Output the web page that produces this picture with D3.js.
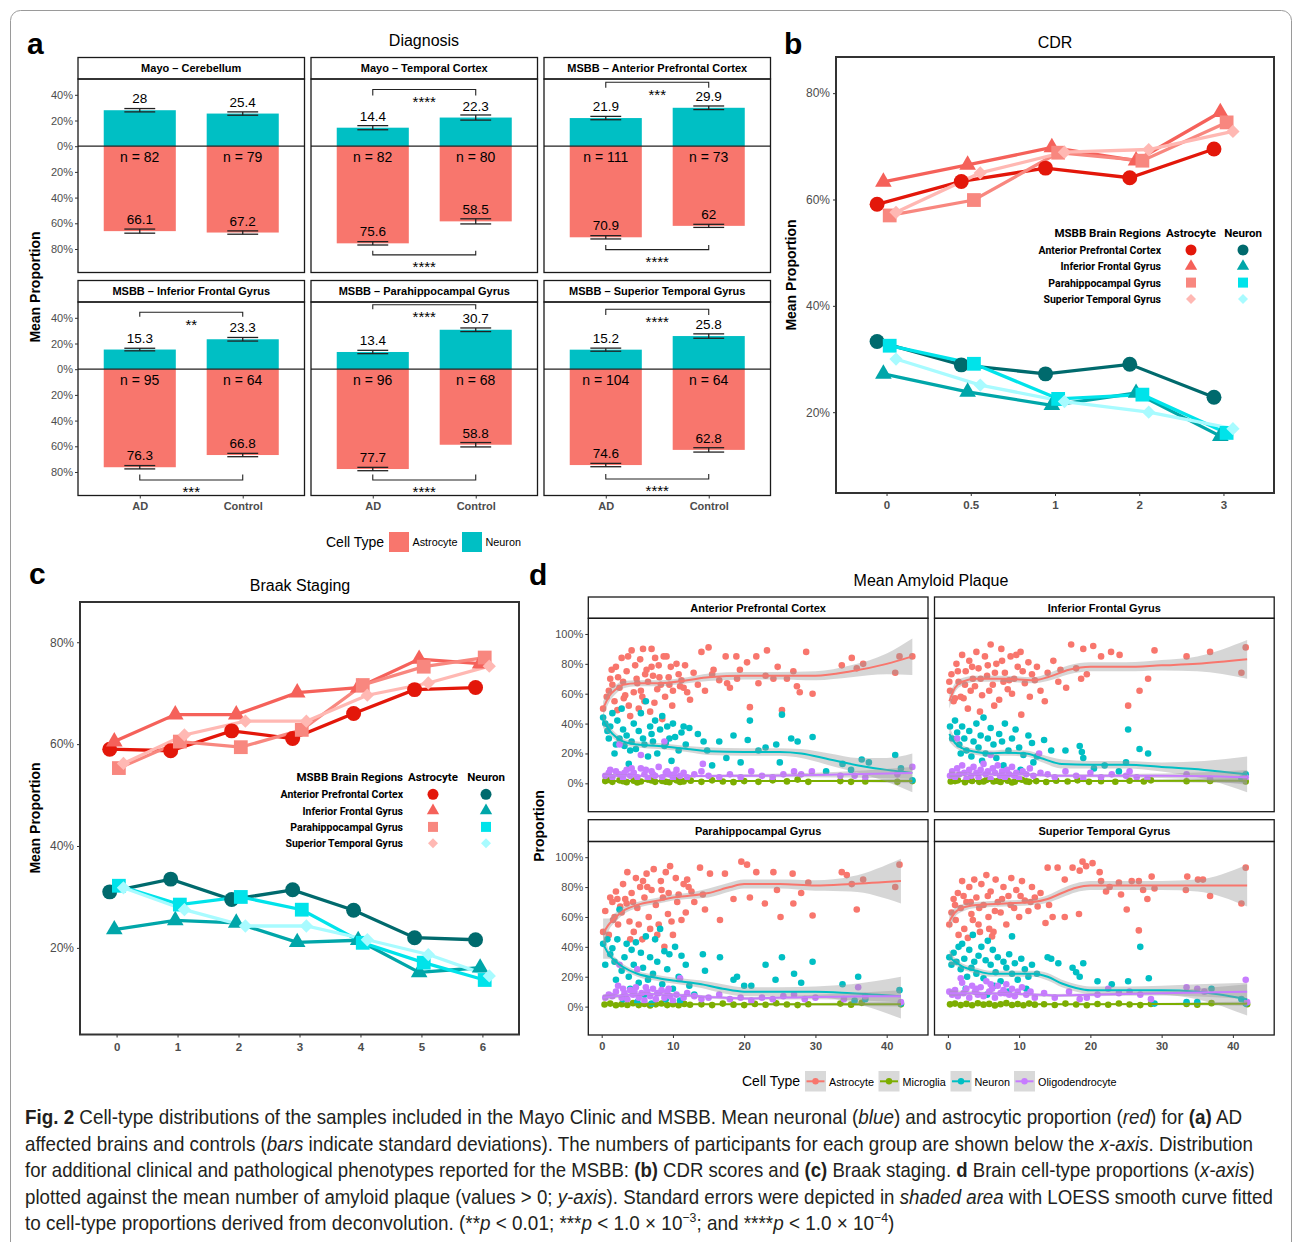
<!DOCTYPE html>
<html>
<head>
<meta charset="utf-8">
<script src="https://cdn.jsdelivr.net/npm/d3@7"></script>
<style>
  body { margin: 0; background: #fff; }
  svg { display: block; }
  text { font-family: "Liberation Sans", Arial, sans-serif; }
</style>
</head>
<body>
<svg id="fig" width="1295" height="1242"></svg>
<script>
// ---------- panel a : diagnosis ----------
const facetsA = ['Mayo \u2013 Cerebellum', 'Mayo \u2013 Temporal Cortex', 'MSBB \u2013 Anterior Prefrontal Cortex',
  'MSBB \u2013 Inferior Frontal Gyrus', 'MSBB \u2013 Parahippocampal Gyrus', 'MSBB \u2013 Superior Temporal Gyrus']
const groupsA = ['AD', 'Control']
const neuronMean = [[28, 25.4], [14.4, 22.3], [21.9, 29.9], [15.3, 23.3], [13.4, 30.7], [15.2, 25.8]]
const neuronErr = [[1.3, 1.3], [1.6, 2.0], [1.3, 1.4], [1.0, 1.4], [1.3, 1.4], [1.2, 1.7]]
const astroMean = [[66.1, 67.2], [75.6, 58.5], [70.9, 62], [76.3, 66.8], [77.7, 58.8], [74.6, 62.8]]
const astroErr = [[1.6, 1.3], [1.3, 2.0], [1.3, 1.2], [1.3, 1.3], [1.3, 1.7], [1.3, 1.7]]
const nCount = [[82, 79], [82, 80], [111, 73], [95, 64], [96, 68], [104, 64]]
const sigNeuron = [null, '****', '***', '**', '****', '****']
const sigNeuronY = [null, [44.1, 39.5], [49.8, 45.5], [44.3, 40.9], [50.2, 46.6], [46.6, 42.2]]
const sigAstro = [null, '****', '****', '***', '****', '****']
const sigAstroY = [null, [-84.6, -81.3], [-80.5, -76.8], [-86.2, -82], [-86.2, -82], [-85.4, -81.5]]
const ticksA = [40, 20, 0, -20, -40, -60, -80]

// ---------- panels b, c : CDR and Braak ----------
const regions = ['Anterior Prefrontal Cortex', 'Inferior Frontal Gyrus', 'Parahippocampal Gyrus', 'Superior Temporal Gyrus']
const cdrLevels = ['0', '0.5', '1', '2', '3']
const cdrAstro = [
  [59.1, 63.4, 65.9, 64.1, 69.5],
  [63.3, 66.5, 69.8, 67.3, 76.4],
  [57.0, 59.9, 68.8, 67.3, 74.5],
  [57.6, 65.0, 68.9, 69.4, 72.8]
]
const cdrNeuron = [
  [33.3, 28.9, 27.2, 29.0, 22.8],
  [27.2, 23.8, 21.3, 23.6, 15.5],
  [32.5, 29.1, 22.5, 23.3, 16.1],
  [30.0, 25.1, 22.0, 20.0, 16.9]
]
const braakLevels = ['0', '1', '2', '3', '4', '5', '6']
const braakAstro = [
  [59.0, 58.7, 62.6, 61.1, 66.0, 70.7, 71.1],
  [60.5, 65.8, 65.8, 70.1, 71.1, 76.7, 75.8],
  [55.3, 60.5, 59.4, 62.8, 71.6, 75.2, 77.0],
  [56.2, 61.8, 64.5, 64.5, 69.6, 72.0, 75.3]
]
const braakNeuron = [
  [31.0, 33.5, 29.5, 31.4, 27.4, 22.0, 21.6],
  [23.6, 25.4, 24.9, 21.1, 21.5, 15.2, 16.1],
  [32.2, 28.5, 30.0, 27.5, 21.0, 17.1, 13.7],
  [31.8, 27.5, 24.3, 24.3, 21.6, 18.7, 14.5]
]
const ticksBC = [20, 40, 60, 80]
const astroColors = ['#E3170A', '#F5615A', '#F8877F', '#FFB8B3']
const neuronColors = ['#006A6D', '#00A6A9', '#00E3EA', '#A8FBFF']

// ---------- panel d : amyloid plaque ----------
const facetsD = ['Anterior Prefrontal Cortex', 'Inferior Frontal Gyrus', 'Parahippocampal Gyrus', 'Superior Temporal Gyrus']
const cellTypesD = ['Astrocyte', 'Microglia', 'Neuron', 'Oligodendrocyte']
const colorsD = ['#F8766D', '#7CAE00', '#00BFC4', '#C77CFF']
const ticksDy = [0, 20, 40, 60, 80, 100]
const ticksDx = [0, 10, 20, 30, 40]

const apcAstro = [[0.2,50],[0.7,58],[1.4,76],[2.0,78],[2.3,71],[2.8,84],[3.7,85],[4.2,89],[4.9,70],[5.4,83],[5.8,90],[6.3,76],
  [7.0,90],[7.5,84],[8.0,79],[8.7,85],[9.1,85],[9.7,78],[10.5,80],[11.0,65],[11.7,79],[12.4,56],[12.9,74],[14.0,88],[15.0,91],
  [15.7,76],[17.4,85],[17.6,67],[18.9,85],[19.4,76],[20.4,81],[20.8,51],[21.7,85],[23.2,89],[24.1,70],[24.7,78],[25.3,49],
  [26.9,75],[27.4,65],[28.7,88],[29.6,60],[33.7,79],[35.1,84],[35.8,77],[36.7,80],[41.2,74],[41.8,85],[43.6,85],
  [1.0,62],[1.5,66],[1.8,55],[2.5,64],[3.0,68],[3.3,59],[3.8,52],[4.5,61],[5.0,67],[5.5,62],[6.0,55],[6.5,68],[7.2,72],
  [7.8,63],[8.3,66],[8.9,58],[9.4,71],[10.0,62],[10.8,73],[11.5,64],[12.0,61],[13.5,66],[14.5,62],[15.5,73],[16.5,69],
  [18.0,64],[19.0,70],[22.0,67],[23.0,72],[26.0,70],[27.8,61],[2.2,49],[4.0,45],[5.2,50],[6.8,48],[8.5,43],[7.0,78],[9.9,52],
  [1.2,70],[3.5,75],[4.7,79],[6.1,73],[8.1,71],[9.5,66],[11.2,69],[3.1,57],[5.7,58],[7.4,54]]
const apcNeuron = [[0.2,44],[0.5,40],[0.8,35],[1.2,38],[1.5,47],[1.8,20],[2.2,42],[2.5,30],[2.8,50],[3.2,25],[3.5,32],[3.8,13],
  [4.2,28],[4.5,40],[4.8,23],[5.2,35],[5.5,47],[5.8,30],[6.2,55],[6.5,18],[6.8,38],[7.2,28],[7.5,42],[7.8,20],[8.2,36],[8.5,45],
  [8.8,25],[9.2,38],[9.5,30],[9.8,15],[10.3,31],[10.8,22],[11.2,34],[11.8,26],[12.3,37],[13.5,33],[14.3,28],[14.8,22],[15.5,12],
  [16.5,28],[17.5,17],[18.5,32],[19.5,14],[20.5,29],[20.8,42],[22.0,22],[23.0,24],[24.5,26],[25.0,14],[25.3,46],[26.6,30],
  [27.5,28],[29.6,31],[31.5,8],[33.8,13],[35.0,9],[36.5,16],[37.5,14],[41.2,19],[42.0,10],[43.6,2],[1.0,30],[3.0,36],[4.0,22],
  [6.0,26],[7.0,33],[9.0,27],[10.0,40],[11.5,38],[2.0,26]]
const apcOligo = [[0.5,5],[1.0,7],[1.5,4],[2.0,8],[2.5,6],[3.0,3],[3.5,9],[4.0,5],[4.5,7],[5.0,4],[5.5,10],[6.0,6],[6.5,3],
  [7.0,8],[7.5,5],[8.0,11],[8.5,4],[9.0,7],[9.5,6],[10.0,3],[10.5,9],[11.0,5],[11.5,7],[12.0,4],[13.0,6],[14.0,8],[15.0,5],
  [16.5,4],[18.0,6],[19.5,4],[21.0,8],[22.5,5],[24.0,4],[25.5,6],[27.0,8],[28.0,6],[29.5,8],[33.5,5],[35.5,5],[37.0,4],
  [41.5,6],[2.5,26],[8.8,28],[5.5,19],[14.2,13],[43.6,11],[1.2,9],[3.2,7],[4.2,10],[6.2,9],[7.2,6],[9.2,8],[10.2,6]]
const apcMicro = [[0.5,1.5],[1.5,1],[2.5,2],[3.5,0.8],[4.5,1.8],[5.5,1.2],[6.5,2.5],[7.5,1],[8.5,1.6],[9.5,0.7],[10.5,2],
  [11.5,1.3],[12.5,1.8],[14,1],[15.5,2],[17,1.2],[18.5,0.8],[20,1.5],[22,1],[24,2],[26,1.3],[27.5,2.5],[29,1],[33.5,1.5],
  [35,1],[37,1.2],[41.5,1],[43.6,1.5],[1,2.2],[3,1.4],[5,0.6],[7,1.9],[9,1.1],[11,0.9]]

const ifgAstro = [[0.3,62],[0.5,73],[0.8,55],[1.2,80],[1.5,68],[2.0,86],[2.2,57],[2.5,75],[3.0,82],[3.2,62],[3.5,70],[4.0,88],
  [4.3,77],[4.8,59],[5.2,85],[5.5,72],[6.0,93],[6.3,66],[6.8,80],[7.2,56],[7.5,90],[8.0,74],[8.4,63],[8.8,85],[9.3,70],[9.8,78],
  [10.2,88],[10.8,67],[11.3,81],[11.8,73],[12.5,78],[13.0,62],[14.0,74],[14.8,82],[15.5,68],[1.0,57],[1.8,58],[2.8,50],[4.5,48],
  [6.5,52],[3.8,65],[5.8,62],[7.8,68],[9.0,60],[10.5,75],[12.2,69],[0.2,68],[17.3,93],[19.0,90],[20.4,92],[21.5,85],[22.9,88],
  [24.1,86],[18.7,70],[16.6,64],[13.6,55],[11.5,58],[10.3,46],[25.3,52],[26.9,62],[28.1,70],[29.0,89],[33.5,85],[36.8,88],
  [41.2,74],[41.8,91],[1.4,75],[2.4,66],[3.4,78],[4.6,70],[5.6,79],[6.6,74],[7.6,82],[8.6,69],[9.6,86],[15.8,76],[18.0,77],[19.5,73]]
const ifgNeuron = [[0.3,38],[0.6,30],[1.0,42],[1.3,34],[1.6,26],[2.0,38],[2.3,30],[2.6,22],[3.0,35],[3.3,18],[3.6,28],[4.0,40],
  [4.3,24],[4.6,32],[5.0,44],[5.3,20],[5.6,30],[6.0,37],[6.4,26],[6.8,17],[7.2,33],[7.6,28],[8.0,40],[8.5,22],[9.0,30],[9.5,36],
  [10.0,24],[10.6,19],[11.3,32],[11.8,27],[12.5,18],[13.5,29],[14.5,22],[16.5,22],[18.5,25],[18.8,21],[19.0,17],[20.5,10],
  [22.0,12],[24.0,8],[25.3,36],[26.9,23],[28.1,20],[25.0,14],[41.8,6],[41.2,3],[1.8,20],[4.8,15],[7.8,12],[10.2,9],[12.0,14]]
const ifgOligo = [[0.3,5],[0.6,8],[1,4],[1.3,10],[1.6,6],[2,12],[2.3,7],[2.6,3],[3,9],[3.3,5],[3.6,11],[4,7],[4.3,4],[4.6,9],
  [5,13],[5.3,6],[5.6,8],[6,3],[6.3,10],[6.6,7],[7,12],[7.3,5],[7.6,8],[8,4],[8.3,9],[8.6,6],[9,11],[9.3,5],[9.6,7],[10,3],
  [10.5,8],[11,6],[11.5,10],[12,5],[13,7],[14,6],[15,4],[16.5,8],[18,5],[19,3],[20,7],[21.5,4],[23,6],[25,5],[26.5,4],[28,3],
  [33.5,6],[36.8,3],[41.8,4],[1.3,30],[12.8,20],[6,19],[25.5,8]]
const ifgMicro = [[0.4,1.2],[1.4,2],[2.4,0.8],[3.4,1.6],[4.4,1],[5.4,2.2],[6.4,1.3],[7.4,0.9],[8.4,1.8],[9.4,1.1],[10.4,2.4],
  [11.4,1],[12.4,1.5],[13.8,0.9],[15.2,1.8],[16.8,1.2],[18.2,2],[19.8,1],[21.5,1.4],[23.5,1.1],[25.5,1.7],[27.5,1.2],
  [28.5,2],[33.5,1.4],[36.8,1.6],[41.8,1.2],[1,1.5],[3,2.5],[5,1.2],[7,1.6],[9,0.6],[11,1.3]]

const phgAstro = [[0.2,50],[0.5,64],[1.0,48],[1.5,70],[1.8,60],[2.0,77],[2.3,55],[2.6,67],[3.0,82],[3.3,72],[3.6,90],[3.9,57],
  [4.2,76],[4.5,50],[4.8,86],[5.0,66],[5.4,80],[5.7,45],[6.0,73],[6.3,89],[6.6,60],[7.0,78],[7.3,92],[7.6,68],[8.0,55],[8.3,84],
  [8.6,73],[9.0,90],[9.3,62],[9.6,94],[10.0,48],[10.4,86],[10.8,75],[11.2,58],[11.5,82],[11.8,63],[12.2,80],[12.6,77],[13.0,70],
  [14.2,75],[14.5,65],[2.8,63],[4.0,45],[6.8,52],[8.8,40],[5.2,55],[9.8,57],[3.5,69],[7.8,48],[1.2,73],[13.8,93],[15.2,89],
  [16.6,58],[17.3,89],[18.5,72],[19.6,97],[20.4,95],[20.8,73],[21.7,90],[22.9,69],[24.1,90],[24.6,78],[25.1,60],[26.8,89],
  [26.9,69],[28.0,76],[29.0,83],[29.6,61],[33.7,90],[34.4,88],[35.1,82],[35.8,65],[36.7,85],[41.2,80],[41.8,95],
  [2.2,72],[4.4,70],[6.4,80],[8.4,78],[10.6,70],[12.0,85],[1.6,58],[5.8,84],[9.4,76]]
const phgNeuron = [[0.2,42],[0.5,28],[0.8,45],[1.2,35],[1.5,39],[1.8,30],[2.2,45],[2.5,65],[2.8,24],[3.2,33],[3.5,42],[3.8,20],
  [4.2,38],[4.5,28],[4.8,43],[5.2,16],[5.5,36],[5.8,26],[6.2,47],[6.5,18],[6.8,33],[7.2,22],[7.5,45],[7.8,30],[8.2,52],[8.5,15],
  [8.8,37],[9.2,25],[9.5,35],[10.0,12],[10.3,40],[10.8,20],[11.2,34],[11.8,28],[12.3,14],[13.0,8],[2.0,18],[4.0,12],[6.0,8],
  [9.0,5],[3.0,5],[5.0,3],[7.0,2],[11.0,4],[14.2,35],[14.5,24],[16.6,33],[18.5,18],[19.0,20],[20.0,14],[21.0,14],[23.0,28],
  [24.4,18],[25.3,33],[27.0,22],[28.0,16],[29.6,30],[33.8,15],[36.0,20],[41.8,11],[42.0,2],[35.5,4],[37.0,5]]
const phgOligo = [[0.5,6],[1,8],[1.5,7],[2,10],[2.3,14],[2.8,6],[3.2,9],[3.6,5],[4,11],[4.4,8],[4.8,13],[5.2,6],[5.6,9],[6,4],
  [6.4,10],[6.8,7],[7.2,12],[7.6,5],[8,9],[8.4,11],[8.8,6],[9.2,10],[9.6,7],[10,4],[10.5,8],[11,19],[11.5,6],[12,9],[13,7],
  [14,5],[15,6],[16.5,8],[18,5],[19.5,6],[21,4],[22.5,6],[24,5],[25.5,7],[27,8],[28.5,5],[30,6],[34,5],[36,13],[37,7],[42,3],
  [2.5,28],[5,25],[3,12],[4.6,10],[6.2,13],[7.8,9],[9.4,12]]
const phgMicro = [[0.4,1.4],[1.2,2],[2,0.9],[2.8,1.6],[3.6,1.1],[4.4,2.3],[5.2,1],[6,1.7],[6.8,0.8],[7.6,1.5],[8.4,2.1],[9.2,1],
  [10,1.6],[10.8,0.9],[11.6,1.8],[12.4,1.2],[14,1.5],[15.5,1],[17,2],[18.5,1.3],[20,1],[21.5,1.8],[23,1.2],[24.5,2.2],[26,1.4],
  [27.5,1],[29,1.6],[33.5,2],[35,1.3],[36.5,2.5],[42,1.5]]

const stgAstro = [[0.2,55],[0.5,63],[0.8,72],[1.1,58],[1.4,76],[1.8,66],[2.0,84],[2.3,52],[2.6,70],[3.0,80],[3.3,62],[3.7,85],
  [4.0,73],[4.3,55],[4.7,82],[5.0,68],[5.4,88],[5.7,60],[6.0,77],[6.4,50],[6.7,85],[7.0,70],[7.4,63],[7.8,80],[8.2,55],[8.5,74],
  [8.9,86],[9.3,66],[9.6,78],[10.0,60],[10.4,84],[10.8,71],[11.3,64],[11.8,80],[12.2,73],[12.6,67],[13.0,76],[1.5,48],[2.8,46],
  [4.5,50],[6.2,47],[3.5,58],[5.8,52],[14.0,93],[15.4,93],[16.4,85],[17.5,93],[18.5,91],[18.9,97],[19.4,94],[20.3,96],[21.3,90],
  [21.5,84],[22.2,77],[22.7,80],[24.0,83],[24.3,75],[25.1,65],[25.8,84],[26.8,84],[26.8,51],[27.4,78],[28.0,72],[28.6,87],
  [29.0,79],[33.4,78],[33.6,87],[35.1,85],[35.8,85],[36.8,74],[41.2,69],[41.8,93],[18.4,62],[16.4,60],[14.7,60],[14.2,68],
  [13.7,56],[1.0,68],[2.2,74],[3.2,70],[4.4,66],[5.6,74],[6.6,64],[7.6,72],[8.8,68],[10.2,74],[11.6,70]]
const stgNeuron = [[0.2,33],[0.5,28],[0.8,36],[1.2,30],[1.5,40],[1.8,25],[2.0,42],[2.3,32],[2.7,20],[3.0,38],[3.3,26],[3.7,30],
  [4.0,22],[4.3,34],[4.7,40],[5.0,19],[5.3,31],[5.6,44],[6.0,28],[6.3,38],[6.7,23],[7.0,33],[7.4,17],[7.8,30],[8.2,26],[8.6,35],
  [9.0,22],[9.4,29],[9.8,18],[10.3,32],[10.8,25],[11.3,20],[11.8,28],[12.5,22],[3.5,48],[6.5,14],[9.0,47],[14,33],[14.5,32],
  [15.5,29],[17.5,26],[18.0,23],[18.5,20],[19.0,29],[21.0,17],[23.0,15],[25.3,17],[27.0,40],[28.2,19],[29.0,2],[37.0,12],
  [41.8,2],[41.2,5],[33.5,3],[35.0,3],[2.5,12],[5.5,8],[8.5,10],[11,12]]
const stgOligo = [[0.2,10],[0.6,8],[1,11],[1.4,7],[1.8,19],[2.2,9],[2.6,12],[3,6],[3.4,14],[3.8,10],[4.2,8],[4.6,13],[5,7],
  [5.4,17],[5.8,10],[6.2,12],[6.6,6],[7,14],[7.4,9],[7.8,11],[8.2,15],[8.6,8],[9,12],[9.4,7],[9.8,10],[10.4,13],[11,8],
  [11.6,10],[12.2,6],[13.5,9],[15,6],[17,10],[18.5,5],[19.5,6],[21,8],[22.5,12],[24,9],[25.5,10],[27,8],[28.5,5],[33.5,13],
  [35,12],[36,10],[41.8,18],[42,3],[2,16],[4,12],[6,15],[8,9]]
const stgMicro = [[0.3,1.5],[1,2],[1.8,1],[2.6,1.8],[3.4,0.9],[4.2,2.2],[5,1.3],[5.8,1.8],[6.6,0.8],[7.4,1.6],[8.2,2.3],
  [9,1.1],[9.8,1.7],[10.6,0.9],[11.4,2],[12.2,1.3],[13.5,1.6],[15,1.1],[16.5,2],[18,1.4],[19.5,0.9],[21,1.7],[22.5,1.2],
  [24,2.1],[25.5,1.4],[27,1],[28.5,1.8],[33.5,1.8],[35,1.3],[37,2.3],[42,1.6]]

// loess fits: [x, fit, lower, upper]
const apcAstroFit = [[0.2,50,45,55],[1,58,54,62],[2,63,60,66],[3,66,63.5,68.5],[5,67,65,69],[8,67,65,69],[12,69,67,71],
  [15,71,68.5,73.5],[20,72,69.5,74.5],[25,72,69.5,74.5],[30,72,69,75],[35,75,71,79],[40,80,73,87],[43.6,85,72.5,97]]
const apcNeuronFit = [[0.2,42,37,47],[1,36,33,39],[2,31,28.5,33.5],[3,28,26,30],[5,26,24,28],[8,25,23,27],[12,23,21,25],
  [15,21.5,19,24],[20,21,18.5,23.5],[25,21,18.5,23.5],[28,20,17,23],[32,16,12,20],[36,12,7,17],[40,9,1,17],[43.6,7,-6,20]]
const apcOligoFit = [[0.2,5,3.5,6.5],[5,5,4.3,5.7],[10,4.8,4,5.6],[20,5,4,6],[30,5.5,4,7],[43.6,7,3,11]]
const apcMicroFit = [[0.2,1.5,1,2],[10,1.5,1.1,1.9],[20,1.6,1.1,2.1],[30,1.6,1,2.2],[43.6,1.5,0,3]]
const ifgAstroFit = [[0.2,55,50,60],[1,64,61,67],[2,68,65.5,70.5],[4,70,68,72],[8,70,68,72],[12,69,67,71],[14,71,68.5,73.5],
  [17,76,73,79],[20,78,75,81],[25,78,75,81],[30,79,75.5,82.5],[35,80,75,85],[42,83,70,96]]
const ifgNeuronFit = [[0.2,33,28,38],[1,27,24,30],[2,23.5,21.5,25.5],[4,21,19,23],[6,20,18,22],[8,20.5,18.5,22.5],[11,20,18,22],
  [13,17,14.5,19.5],[16,13,10,16],[20,12.5,10,15],[25,12.5,10,15],[30,11,8,14],[36,9,3,15],[42,6,-6,18]]
const ifgOligoFit = [[0.2,6,4,8],[5,6,5,7],[10,6,5,7],[15,5,4,6],[20,5,4,6],[30,5,3.5,6.5],[42,4,-1,9]]
const ifgMicroFit = [[0.2,1.5,1,2],[20,1.6,1,2.2],[42,1.8,0,3.6]]
const phgAstroFit = [[0.2,49,39,59],[1,55,51,59],[2,60,57,63],[3,64,61.5,66.5],[5,68,66,70],[8,71,69,73],[10,73,71,75],
  [12,74,72,76],[15,76,73,79],[18,80,77,83],[20,82,79,85],[25,82,79,85],[30,81,77.5,84.5],[35,82,77,87],[42,84,69,99]]
const phgNeuronFit = [[0.2,42,32,52],[1,35,32,38],[2,30,27.5,32.5],[3,26.5,24.5,28.5],[5,22,20,24],[8,19,17,21],
  [10,17.5,15.5,19.5],[14,15,12.5,17.5],[17,12,9,15],[20,10,7,13],[25,10,7,13],[30,10,6.5,13.5],[35,9,3,15],[42,7,-8,20]]
const phgOligoFit = [[0.2,6,4,8],[3,7.5,6.5,8.5],[6,8.5,7.5,9.5],[10,8,7,9],[15,6.5,5.5,7.5],[20,5.5,4.5,6.5],[30,6.5,5,8],[42,7,3,11]]
const phgMicroFit = [[0.2,1.5,1,2],[20,1.5,1,2],[42,1.6,0,3.2]]
const stgAstroFit = [[0.2,57,51,63],[1,63,60,66],[2,66,63.5,68.5],[4,68,66,70],[8,69,67,71],[12,70,68,72],[14,72,69.5,74.5],
  [16,76,73,79],[18,79.5,76.5,82.5],[20,81,78,84],[25,81,78,84],[30,81,78,84],[35,81,77,85],[42,81,67,95]]
const stgNeuronFit = [[0.2,33,28,38],[1,30,27.5,32.5],[2,27,25,29],[4,24,22,26],[6,22,20,24],[8,22,20,24],[10,22,20,24],
  [12,22,20,24],[14,20,17.5,22.5],[16,15.5,13,18],[18,12.5,10,15],[20,11,8.5,13.5],[25,11,8.5,13.5],[30,11,8,14],[35,10,5,15],[42,5,-6,16]]
const stgOligoFit = [[0.2,9,7,11],[5,9,8,10],[10,8.5,7.5,9.5],[15,7.5,6.5,8.5],[20,8,7,9],[30,9,7.5,10.5],[42,10,5,15]]
const stgMicroFit = [[0.2,1.5,1,2],[20,1.6,1.1,2.1],[42,2,0.5,3.5]]

const pointsD = [
  [apcAstro, apcMicro, apcNeuron, apcOligo],
  [ifgAstro, ifgMicro, ifgNeuron, ifgOligo],
  [phgAstro, phgMicro, phgNeuron, phgOligo],
  [stgAstro, stgMicro, stgNeuron, stgOligo]
]
const fitsD = [
  [apcAstroFit, apcMicroFit, apcNeuronFit, apcOligoFit],
  [ifgAstroFit, ifgMicroFit, ifgNeuronFit, ifgOligoFit],
  [phgAstroFit, phgMicroFit, phgNeuronFit, phgOligoFit],
  [stgAstroFit, stgMicroFit, stgNeuronFit, stgOligoFit]
]

// ---------------------------------------------------------------
const svg = d3.select('#fig')
const axisGray = '#4D4D4D'
const astroFill = '#F8766D'
const neuronFill = '#00BFC4'
const narrow = '"Liberation Sans Narrow", "Roboto", sans-serif'

// outer frame of the figure
svg.append('rect')
  .attr('x', 10.5).attr('y', 10.5)
  .attr('width', 1281).attr('height', 1245)
  .attr('rx', 10)
  .attr('fill', 'none').attr('stroke', '#9a9a9a').attr('stroke-width', 1)

const label = (t, x, y) => svg.append('text').attr('x', x).attr('y', y)
  .attr('font-size', 30).attr('font-weight', 'bold').text(t)
const title = (t, x, y) => svg.append('text').attr('x', x).attr('y', y)
  .attr('font-size', 16).attr('text-anchor', 'middle').text(t)
const yTitle = (t, x, y) => svg.append('text')
  .attr('transform', `translate(${x},${y}) rotate(-90)`)
  .attr('font-size', 14).attr('font-weight', 'bold').attr('text-anchor', 'middle').text(t)

// styles axis groups the ggplot way
const styleAxis = (g, size, bold) => {
  g.select('.domain').remove()
  g.selectAll('.tick line').attr('stroke', '#333')
  g.selectAll('.tick text').attr('fill', axisGray).attr('font-size', size)
    .attr('font-weight', bold ? 'bold' : 'normal')
    .style('font-family', '"Liberation Sans", Arial, sans-serif')
}

/* ================= PANEL A ================= */
label('a', 27, 54)
title('Diagnosis', 424, 46)
yTitle('Mean Proportion', 40, 287)

const aCols = [78, 311, 544]
const aColW = 226.5
const aRows = [{ strip: 57.5, top: 79, bottom: 272.5 }, { strip: 280.5, top: 302, bottom: 495.5 }]

facetsA.forEach((name, i) => {
  const col = i % 3
  const row = Math.floor(i / 3)
  const x0 = aCols[col]
  const r = aRows[row]
  const x = d3.scalePoint().domain(groupsA).range([x0, x0 + aColW]).padding(0.6)
  const y = d3.scaleLinear().domain([-98.3, 52.3]).range([r.bottom, r.top])
  const barW = x.step() * 0.7
  const capW = x.step() * 0.3
  const g = svg.append('g')

  // strip
  g.append('rect').attr('x', x0).attr('y', r.strip).attr('width', aColW).attr('height', r.top - r.strip)
    .attr('fill', '#fff').attr('stroke', '#1a1a1a').attr('stroke-width', 1.3)
  g.append('text').attr('x', x0 + aColW / 2).attr('y', (r.strip + r.top) / 2 + 4)
    .attr('text-anchor', 'middle').attr('font-size', 11).attr('font-weight', 'bold').text(name)

  // bars
  groupsA.forEach((grp, j) => {
    g.append('rect').attr('x', x(grp) - barW / 2).attr('width', barW)
      .attr('y', y(neuronMean[i][j])).attr('height', y(0) - y(neuronMean[i][j]))
      .attr('fill', neuronFill)
    g.append('rect').attr('x', x(grp) - barW / 2).attr('width', barW)
      .attr('y', y(0)).attr('height', y(-astroMean[i][j]) - y(0))
      .attr('fill', astroFill)
  })

  // zero line
  g.append('line').attr('x1', x0).attr('x2', x0 + aColW).attr('y1', y(0)).attr('y2', y(0))
    .attr('stroke', '#222').attr('stroke-width', 1.2)

  // error bars and labels
  groupsA.forEach((grp, j) => {
    const cx = x(grp)
    const bars = [[neuronMean[i][j], neuronErr[i][j]], [-astroMean[i][j], astroErr[i][j]]]
    bars.forEach(([v, e]) => {
      ;[v - e, v + e].forEach(c => {
        g.append('line').attr('x1', cx - capW / 2).attr('x2', cx + capW / 2)
          .attr('y1', y(c)).attr('y2', y(c)).attr('stroke', '#222').attr('stroke-width', 1.3)
      })
      g.append('line').attr('x1', cx).attr('x2', cx).attr('y1', y(v - e)).attr('y2', y(v + e))
        .attr('stroke', '#222').attr('stroke-width', 1.3)
    })
    g.append('text').attr('x', cx).attr('y', y(neuronMean[i][j]) - 7)
      .attr('text-anchor', 'middle').attr('font-size', 13.5).text(neuronMean[i][j])
    g.append('text').attr('x', cx).attr('y', y(-astroMean[i][j]) - 7)
      .attr('text-anchor', 'middle').attr('font-size', 13.5).text(astroMean[i][j])
    g.append('text').attr('x', cx).attr('y', y(0) + 15.5)
      .attr('text-anchor', 'middle').attr('font-size', 14).text('n = ' + nCount[i][j])
  })

  // significance brackets
  const drawSig = (stars, lv) => {
    if (!stars) return
    const [a, b] = [x('AD'), x('Control')]
    g.append('path')
      .attr('d', `M${a},${y(lv[1])}V${y(lv[0])}H${b}V${y(lv[1])}`)
      .attr('fill', 'none').attr('stroke', '#222').attr('stroke-width', 1.1)
    g.append('text').attr('x', (a + b) / 2).attr('y', y(lv[0]) + 17.5)
      .attr('text-anchor', 'middle').attr('font-size', 15).text(stars)
  }
  drawSig(sigNeuron[i], sigNeuronY[i])
  drawSig(sigAstro[i], sigAstroY[i])

  // panel border
  g.append('rect').attr('x', x0).attr('y', r.top).attr('width', aColW).attr('height', r.bottom - r.top)
    .attr('fill', 'none').attr('stroke', '#1a1a1a').attr('stroke-width', 1.3)

  if (col === 0) {
    const ga = g.append('g').attr('transform', `translate(${x0},0)`)
      .call(d3.axisLeft(y).tickValues(ticksA).tickSize(3).tickPadding(2).tickFormat(d => Math.abs(d) + '%'))
    styleAxis(ga, 11, false)
  }
  if (row === 1) {
    const gb = g.append('g').attr('transform', `translate(0,${r.bottom})`)
      .call(d3.axisBottom(x).tickSize(3).tickPadding(4))
    styleAxis(gb, 11, true)
  }
})

// legend a
svg.append('text').attr('x', 326).attr('y', 547).attr('font-size', 14).text('Cell Type')
;[['Astrocyte', astroFill, 389], ['Neuron', neuronFill, 462]].forEach(([t, c, lx]) => {
  svg.append('rect').attr('x', lx).attr('y', 532).attr('width', 20).attr('height', 20).attr('fill', c)
  svg.append('text').attr('x', lx + 23.5).attr('y', 546).attr('font-size', 10.8).text(t)
})

/* ================= PANELS B & C ================= */
const diamond = {
  draw(ctx, size) {
    const r = Math.sqrt(size / 2)
    ctx.moveTo(0, -r); ctx.lineTo(r, 0); ctx.lineTo(0, r); ctx.lineTo(-r, 0); ctx.closePath()
  }
}
const shapes = [d3.symbolCircle, d3.symbolTriangle, d3.symbolSquare, diamond]
const shapeSize = [175, 120, 190, 88]
const legendSize = [95, 66, 100, 50]

function linePanel(o) {
  const x = d3.scalePoint().domain(o.levels).range([o.left, o.right]).padding(0.6)
  const y = d3.scaleLinear().domain(o.yDomain).range([o.bottom, o.top])
  const dodge = k => (k - 1.5) * 0.075 * x.step()
  const g = svg.append('g')

  const series = []
  regions.forEach((reg, k) => {
    series.push({ vals: o.astro[k], color: astroColors[k], k })
    series.push({ vals: o.neuron[k], color: neuronColors[k], k })
  })
  const line = d3.line()
  series.forEach(s => {
    g.append('path')
      .attr('d', line(s.vals.map((v, j) => [x(o.levels[j]) + dodge(s.k), y(v)])))
      .attr('fill', 'none').attr('stroke', s.color).attr('stroke-width', 3.3)
  })
  series.forEach(s => {
    s.vals.forEach((v, j) => {
      g.append('path')
        .attr('d', d3.symbol().type(shapes[s.k]).size(shapeSize[s.k])())
        .attr('transform', `translate(${x(o.levels[j]) + dodge(s.k)},${y(v)})`)
        .attr('fill', s.color)
    })
  })

  g.append('rect').attr('x', o.left).attr('y', o.top).attr('width', o.right - o.left).attr('height', o.bottom - o.top)
    .attr('fill', 'none').attr('stroke', '#333').attr('stroke-width', 2)

  const ga = g.append('g').attr('transform', `translate(${o.left},0)`)
    .call(d3.axisLeft(y).tickValues(ticksBC).tickSize(3).tickPadding(3).tickFormat(d => d + '%'))
  styleAxis(ga, 12, false)
  const gb = g.append('g').attr('transform', `translate(0,${o.bottom})`)
    .call(d3.axisBottom(x).tickSize(3).tickPadding(5))
  styleAxis(gb, 11.5, true)

  // legend inside the plot
  const L = o.legend
  const lg = g.append('g').attr('font-weight', 'bold')
  lg.append('text').attr('x', L.labelX).attr('y', L.headY).attr('text-anchor', 'end').attr('font-size', 11.5)
    .style('font-family', narrow).text('MSBB Brain Regions')
  lg.append('text').attr('x', L.astroX).attr('y', L.headY).attr('text-anchor', 'middle').attr('font-size', 11.5)
    .style('font-family', narrow).text('Astrocyte')
  lg.append('text').attr('x', L.neuronX).attr('y', L.headY).attr('text-anchor', 'middle').attr('font-size', 11.5)
    .style('font-family', narrow).text('Neuron')
  regions.forEach((reg, k) => {
    const ry = L.rowY + k * L.rowStep
    lg.append('text').attr('x', L.labelX).attr('y', ry + 4).attr('text-anchor', 'end').attr('font-size', 10.5)
      .style('font-family', narrow).text(reg)
    ;[[L.astroX, astroColors[k]], [L.neuronX, neuronColors[k]]].forEach(([sx, c]) => {
      lg.append('path').attr('d', d3.symbol().type(shapes[k]).size(legendSize[k])())
        .attr('transform', `translate(${sx},${ry})`).attr('fill', c)
    })
  })
}

label('b', 784, 54)
title('CDR', 1055, 48)
yTitle('Mean Proportion', 796, 275)
linePanel({
  levels: cdrLevels, astro: cdrAstro, neuron: cdrNeuron,
  left: 836, right: 1274, top: 57, bottom: 493, yDomain: [4.8, 86.8],
  legend: { labelX: 1161, astroX: 1191, neuronX: 1243, headY: 237, rowY: 250, rowStep: 16.3 }
})

label('c', 29, 584)
title('Braak Staging', 300, 591)
yTitle('Mean Proportion', 40, 818)
linePanel({
  levels: braakLevels, astro: braakAstro, neuron: braakNeuron,
  left: 80, right: 519, top: 602, bottom: 1034.5, yDomain: [3.0, 87.9],
  legend: { labelX: 403, astroX: 433, neuronX: 486, headY: 781, rowY: 794.3, rowStep: 16.3 }
})

/* ================= PANEL D ================= */
label('d', 529, 585)
title('Mean Amyloid Plaque', 931, 586)
yTitle('Proportion', 544, 826)

const dCols = [588.3, 934.5]
const dW = 339.7
const dRows = [{ strip: 597, top: 618.3, bottom: 811.7 }, { strip: 819.7, top: 841.5, bottom: 1035 }]

facetsD.forEach((name, i) => {
  const col = i % 2
  const row = Math.floor(i / 2)
  const x0 = dCols[col]
  const r = dRows[row]
  const x = d3.scaleLinear().domain([-1.88, 45.8]).range([x0, x0 + dW])
  const y = d3.scaleLinear().domain([-19, 110.5]).range([r.bottom, r.top])
  const g = svg.append('g')

  g.append('rect').attr('x', x0).attr('y', r.strip).attr('width', dW).attr('height', r.top - r.strip)
    .attr('fill', '#fff').attr('stroke', '#1a1a1a').attr('stroke-width', 1.3)
  g.append('text').attr('x', x0 + dW / 2).attr('y', (r.strip + r.top) / 2 + 4)
    .attr('text-anchor', 'middle').attr('font-size', 11).attr('font-weight', 'bold').text(name)

  const clipId = 'clipd' + i
  svg.append('clipPath').attr('id', clipId).append('rect')
    .attr('x', x0).attr('y', r.top).attr('width', dW).attr('height', r.bottom - r.top)
  const inner = g.append('g').attr('clip-path', `url(#${clipId})`)

  cellTypesD.forEach((ct, k) => {
    inner.append('g').selectAll('circle').data(pointsD[i][k]).join('circle')
      .attr('cx', d => x(d[0])).attr('cy', d => y(d[1])).attr('r', 3.3)
      .attr('fill', colorsD[k])
  })
  cellTypesD.forEach((ct, k) => {
    const fit = fitsD[i][k]
    inner.append('path')
      .attr('d', d3.area().curve(d3.curveMonotoneX).x(d => x(d[0])).y0(d => y(d[2])).y1(d => y(d[3]))(fit))
      .attr('fill', '#999').attr('fill-opacity', 0.4)
    inner.append('path')
      .attr('d', d3.line().curve(d3.curveMonotoneX).x(d => x(d[0])).y(d => y(d[1]))(fit))
      .attr('fill', 'none').attr('stroke', colorsD[k]).attr('stroke-width', 2)
  })

  g.append('rect').attr('x', x0).attr('y', r.top).attr('width', dW).attr('height', r.bottom - r.top)
    .attr('fill', 'none').attr('stroke', '#1a1a1a').attr('stroke-width', 1.3)

  if (col === 0) {
    const ga = g.append('g').attr('transform', `translate(${x0},0)`)
      .call(d3.axisLeft(y).tickValues(ticksDy).tickSize(3).tickPadding(2).tickFormat(d => d + '%'))
    styleAxis(ga, 11, false)
  }
  if (row === 1) {
    const gb = g.append('g').attr('transform', `translate(0,${r.bottom})`)
      .call(d3.axisBottom(x).tickValues(ticksDx).tickSize(3).tickPadding(4))
    styleAxis(gb, 11, true)
  }
})

// legend d
svg.append('text').attr('x', 742).attr('y', 1086).attr('font-size', 14).text('Cell Type')
const keyX = [805, 878.5, 950.5, 1014]
cellTypesD.forEach((ct, k) => {
  const kx = keyX[k]
  svg.append('rect').attr('x', kx).attr('y', 1071).attr('width', 21).attr('height', 20.5).attr('fill', '#D9D9D9')
  svg.append('line').attr('x1', kx + 1.5).attr('x2', kx + 19.5).attr('y1', 1081.3).attr('y2', 1081.3)
    .attr('stroke', colorsD[k]).attr('stroke-width', 2)
  svg.append('circle').attr('cx', kx + 10.5).attr('cy', 1081.3).attr('r', 3.2).attr('fill', colorsD[k])
  svg.append('text').attr('x', kx + 24).attr('y', 1085.5).attr('font-size', 10.8).text(ct)
})

/* ================= CAPTION ================= */
const capLines = [
  { y: 1124, len: 1218, parts: [['Fig. 2', 'b'], [' Cell-type distributions of the samples included in the Mayo Clinic and MSBB. Mean neuronal ('], ['blue', 'i'], [') and astrocytic proportion ('], ['red', 'i'], [') for '], ['(a)', 'b'], [' AD']] },
  { y: 1150.5, len: 1229, parts: [['affected brains and controls ('], ['bars', 'i'], [' indicate standard deviations). The numbers of participants for each group are shown below the '], ['x-axis', 'i'], ['. Distribution']] },
  { y: 1177, len: 1230, parts: [['for additional clinical and pathological phenotypes reported for the MSBB: '], ['(b)', 'b'], [' CDR scores and '], ['(c)', 'b'], [' Braak staging. '], ['d', 'b'], [' Brain cell-type proportions ('], ['x-axis', 'i'], [')']] },
  { y: 1203.5, len: 1248, parts: [['plotted against the mean number of amyloid plaque (values > 0; '], ['y-axis', 'i'], ['). Standard errors were depicted in '], ['shaded area', 'i'], [' with LOESS smooth curve fitted']] },
  { y: 1230, len: 870, parts: [['to cell-type proportions derived from deconvolution. (**'], ['p', 'i'], [' < 0.01; ***'], ['p', 'i'], [' < 1.0 \u00d7 10'], ['\u22123', 's'], ['; and ****'], ['p', 'i'], [' < 1.0 \u00d7 10'], ['\u22124', 's'], [')']] }
]
// each line is squeezed horizontally to the reference width (the caption font is a condensed one)
capLines.forEach(l => {
  const t = svg.append('text').attr('x', 0).attr('y', 0).attr('font-size', 20)
    .style('font-family', '"Liberation Sans", Arial, sans-serif').attr('fill', '#231f20')
  let raised = false
  l.parts.forEach(([s, f]) => {
    const sp = t.append('tspan').text(s)
    if (f === 'b') sp.attr('font-weight', 'bold')
    if (f === 'i') sp.attr('font-style', 'italic')
    if (f === 's') { sp.attr('font-size', 13).attr('dy', -8); raised = true }
    else if (raised) { sp.attr('dy', 8); raised = false }
  })
  const natural = t.node().getComputedTextLength()
  t.attr('transform', `translate(25,${l.y}) scale(${l.len / natural},1)`)
})
</script>
</body>
</html>
